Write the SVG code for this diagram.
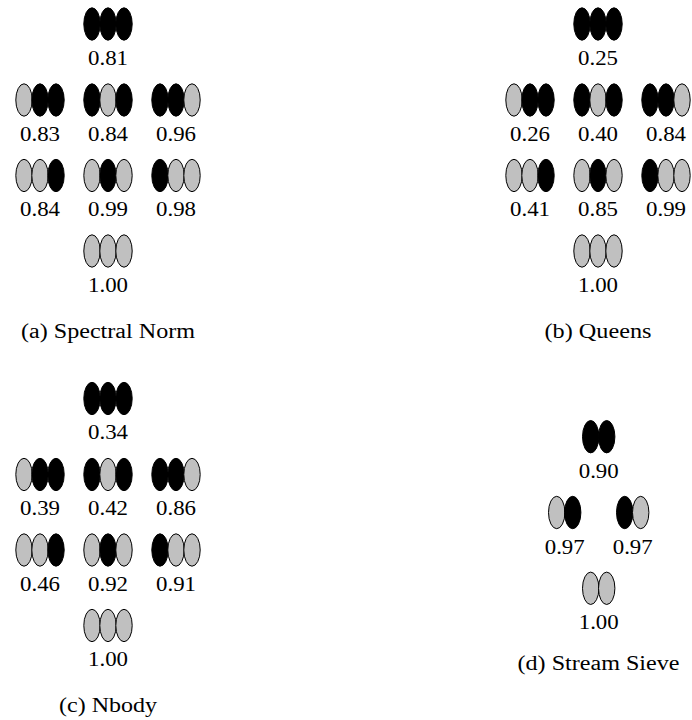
<svg xmlns="http://www.w3.org/2000/svg" width="692" height="720" viewBox="0 0 692 720">
<style>
.b{fill:#000;stroke:#000;stroke-width:1}
.g{fill:#c0c0c0;stroke:#000;stroke-width:1}
text{font-family:"Liberation Serif","Times New Roman",serif;font-size:20.5px;fill:#000;text-anchor:middle}
</style>
<defs>
<ellipse id="B" class="b" rx="8.2" ry="16.2"/>
<ellipse id="G" class="g" rx="8.2" ry="16.2"/>
</defs>
<rect width="692" height="720" fill="#fff"/>
<g id="connectors"/>
<!-- Panel a -->
<g id="panel-a">
<g id="a-bbb" transform="translate(108,24)"><use href="#B" x="-16"/><use href="#B"/><use href="#B" x="16"/><text y="40.5" textLength="40" lengthAdjust="spacingAndGlyphs">0.81</text></g>
<g id="a-gbb" transform="translate(40,100)"><use href="#G" x="-16"/><use href="#B"/><use href="#B" x="16"/><text y="40.5" textLength="40" lengthAdjust="spacingAndGlyphs">0.83</text></g>
<g id="a-bgb" transform="translate(108,100)"><use href="#B" x="-16"/><use href="#G"/><use href="#B" x="16"/><text y="40.5" textLength="40" lengthAdjust="spacingAndGlyphs">0.84</text></g>
<g id="a-bbg" transform="translate(176,100)"><use href="#B" x="-16"/><use href="#B"/><use href="#G" x="16"/><text y="40.5" textLength="40" lengthAdjust="spacingAndGlyphs">0.96</text></g>
<g id="a-ggb" transform="translate(40,175.5)"><use href="#G" x="-16"/><use href="#G"/><use href="#B" x="16"/><text y="40.5" textLength="40" lengthAdjust="spacingAndGlyphs">0.84</text></g>
<g id="a-gbg" transform="translate(108,175.5)"><use href="#G" x="-16"/><use href="#B"/><use href="#G" x="16"/><text y="40.5" textLength="40" lengthAdjust="spacingAndGlyphs">0.99</text></g>
<g id="a-bgg" transform="translate(176,175.5)"><use href="#B" x="-16"/><use href="#G"/><use href="#G" x="16"/><text y="40.5" textLength="40" lengthAdjust="spacingAndGlyphs">0.98</text></g>
<g id="a-ggg" transform="translate(108,251)"><use href="#G" x="-16"/><use href="#G"/><use href="#G" x="16"/><text y="40.5" textLength="40" lengthAdjust="spacingAndGlyphs">1.00</text></g>
<text x="108" y="337.5" textLength="174" lengthAdjust="spacingAndGlyphs">(a) Spectral Norm</text>
</g>
<!-- Panel b -->
<g id="panel-b">
<g id="b-bbb" transform="translate(598,24)"><use href="#B" x="-16"/><use href="#B"/><use href="#B" x="16"/><text y="40.5" textLength="40" lengthAdjust="spacingAndGlyphs">0.25</text></g>
<g id="b-gbb" transform="translate(530,100)"><use href="#G" x="-16"/><use href="#B"/><use href="#B" x="16"/><text y="40.5" textLength="40" lengthAdjust="spacingAndGlyphs">0.26</text></g>
<g id="b-bgb" transform="translate(598,100)"><use href="#B" x="-16"/><use href="#G"/><use href="#B" x="16"/><text y="40.5" textLength="40" lengthAdjust="spacingAndGlyphs">0.40</text></g>
<g id="b-bbg" transform="translate(666,100)"><use href="#B" x="-16"/><use href="#B"/><use href="#G" x="16"/><text y="40.5" textLength="40" lengthAdjust="spacingAndGlyphs">0.84</text></g>
<g id="b-ggb" transform="translate(530,175.5)"><use href="#G" x="-16"/><use href="#G"/><use href="#B" x="16"/><text y="40.5" textLength="40" lengthAdjust="spacingAndGlyphs">0.41</text></g>
<g id="b-gbg" transform="translate(598,175.5)"><use href="#G" x="-16"/><use href="#B"/><use href="#G" x="16"/><text y="40.5" textLength="40" lengthAdjust="spacingAndGlyphs">0.85</text></g>
<g id="b-bgg" transform="translate(666,175.5)"><use href="#B" x="-16"/><use href="#G"/><use href="#G" x="16"/><text y="40.5" textLength="40" lengthAdjust="spacingAndGlyphs">0.99</text></g>
<g id="b-ggg" transform="translate(598,251)"><use href="#G" x="-16"/><use href="#G"/><use href="#G" x="16"/><text y="40.5" textLength="40" lengthAdjust="spacingAndGlyphs">1.00</text></g>
<text x="598" y="337.5" textLength="107" lengthAdjust="spacingAndGlyphs">(b) Queens</text>
</g>
<!-- Panel c -->
<g id="panel-c">
<g id="c-bbb" transform="translate(108,398.5)"><use href="#B" x="-16"/><use href="#B"/><use href="#B" x="16"/><text y="40.5" textLength="40" lengthAdjust="spacingAndGlyphs">0.34</text></g>
<g id="c-gbb" transform="translate(40,474.5)"><use href="#G" x="-16"/><use href="#B"/><use href="#B" x="16"/><text y="40.5" textLength="40" lengthAdjust="spacingAndGlyphs">0.39</text></g>
<g id="c-bgb" transform="translate(108,474.5)"><use href="#B" x="-16"/><use href="#G"/><use href="#B" x="16"/><text y="40.5" textLength="40" lengthAdjust="spacingAndGlyphs">0.42</text></g>
<g id="c-bbg" transform="translate(176,474.5)"><use href="#B" x="-16"/><use href="#B"/><use href="#G" x="16"/><text y="40.5" textLength="40" lengthAdjust="spacingAndGlyphs">0.86</text></g>
<g id="c-ggb" transform="translate(40,550)"><use href="#G" x="-16"/><use href="#G"/><use href="#B" x="16"/><text y="40.5" textLength="40" lengthAdjust="spacingAndGlyphs">0.46</text></g>
<g id="c-gbg" transform="translate(108,550)"><use href="#G" x="-16"/><use href="#B"/><use href="#G" x="16"/><text y="40.5" textLength="40" lengthAdjust="spacingAndGlyphs">0.92</text></g>
<g id="c-bgg" transform="translate(176,550)"><use href="#B" x="-16"/><use href="#G"/><use href="#G" x="16"/><text y="40.5" textLength="40" lengthAdjust="spacingAndGlyphs">0.91</text></g>
<g id="c-ggg" transform="translate(108,625.5)"><use href="#G" x="-16"/><use href="#G"/><use href="#G" x="16"/><text y="40.5" textLength="40" lengthAdjust="spacingAndGlyphs">1.00</text></g>
<text x="108" y="712" textLength="98" lengthAdjust="spacingAndGlyphs">(c) Nbody</text>
</g>
<!-- Panel d -->
<g id="panel-d">
<g id="d-bb" transform="translate(598.7,436.7)"><use href="#B" x="-8"/><use href="#B" x="8"/><text y="41" textLength="40" lengthAdjust="spacingAndGlyphs">0.90</text></g>
<g id="d-gb" transform="translate(564.7,512.5)"><use href="#G" x="-8"/><use href="#B" x="8"/><text y="41" textLength="40" lengthAdjust="spacingAndGlyphs">0.97</text></g>
<g id="d-bg" transform="translate(632.7,512.5)"><use href="#B" x="-8"/><use href="#G" x="8"/><text y="41" textLength="40" lengthAdjust="spacingAndGlyphs">0.97</text></g>
<g id="d-gg" transform="translate(598.7,588.3)"><use href="#G" x="-8"/><use href="#G" x="8"/><text y="41" textLength="40" lengthAdjust="spacingAndGlyphs">1.00</text></g>
<text x="598.5" y="670" textLength="162" lengthAdjust="spacingAndGlyphs">(d) Stream Sieve</text>
</g>
</svg>
